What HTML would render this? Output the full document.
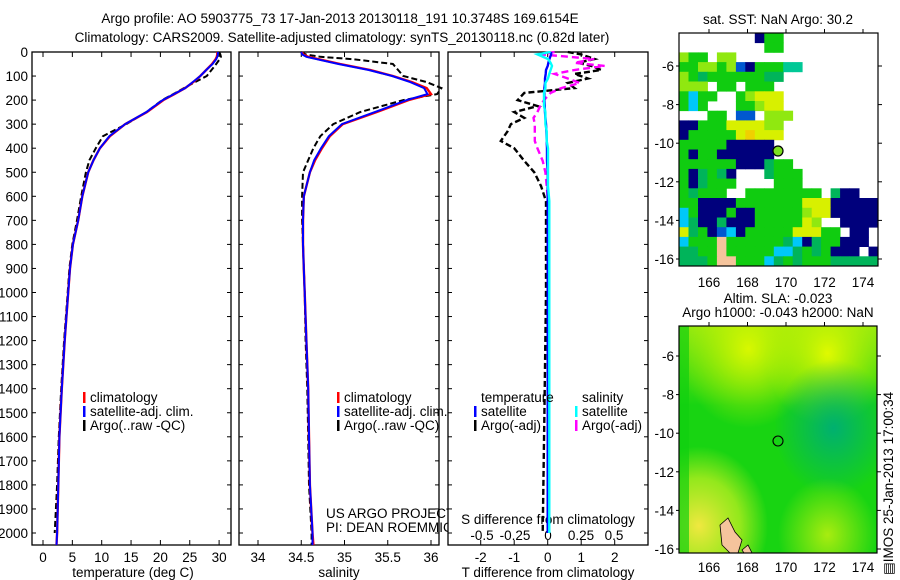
<!DOCTYPE html>
<html><head><meta charset="utf-8">
<style>
body{margin:0;background:#fff;}
svg{display:block;font-family:"Liberation Sans",sans-serif;}
text{font-size:13.5px;fill:#000;}
</style></head>
<body>
<svg id="fig" width="900" height="580" viewBox="0 0 900 580" xmlns="http://www.w3.org/2000/svg">
<defs>
<radialGradient id="g1" cx="0.1" cy="0.88" r="0.35"><stop offset="0" stop-color="#f0e840"/><stop offset="0.6" stop-color="#c8f020" stop-opacity="0.7"/><stop offset="1" stop-color="#c8f020" stop-opacity="0"/></radialGradient>
<radialGradient id="g2" cx="0.78" cy="0.45" r="0.3"><stop offset="0" stop-color="#00b070"/><stop offset="1" stop-color="#00b070" stop-opacity="0"/></radialGradient>
<radialGradient id="g3" cx="0.35" cy="0.1" r="0.35"><stop offset="0" stop-color="#d8f800"/><stop offset="1" stop-color="#c0f000" stop-opacity="0"/></radialGradient>
<radialGradient id="g4" cx="0.75" cy="0.12" r="0.32"><stop offset="0" stop-color="#e0fa00"/><stop offset="1" stop-color="#c0f000" stop-opacity="0"/></radialGradient>
<radialGradient id="g5" cx="0.75" cy="0.92" r="0.25"><stop offset="0" stop-color="#a8ec10"/><stop offset="1" stop-color="#a8ec10" stop-opacity="0"/></radialGradient>
<linearGradient id="gtop" x1="0" y1="0" x2="0" y2="1"><stop offset="0" stop-color="#b0ee10" stop-opacity="0.8"/><stop offset="0.35" stop-color="#b0ee10" stop-opacity="0"/></linearGradient>
</defs>
<text x="340" y="23" text-anchor="middle" font-size="14.5">Argo profile: AO 5903775_73 17-Jan-2013 20130118_191 10.3748S 169.6154E</text>
<text x="342" y="42" text-anchor="middle" font-size="14.5">Climatology: CARS2009. Satellite-adjusted climatology: synTS_20130118.nc (0.82d later)</text>
<g id="p1"></g>
<g id="p2"></g>
<g id="p3"></g>
<g id="m1"></g>
<g id="m2"></g>
<text transform="translate(893,575) rotate(-90)" font-size="13">▤IMOS 25-Jan-2013 17:00:34</text>
</svg>
<script>
// ---- data ----
const depth = [0,10,20,30,50,75,100,125,150,175,200,250,300,350,400,450,500,600,700,800,900,1000,1200,1400,1600,1800,2000,2050];
const tempClim = [29.7,29.7,29.6,29.4,28.8,27.8,26.8,25.6,24.2,22.4,20.5,17.7,14.0,11.4,9.7,8.6,7.7,6.7,6.0,5.1,4.6,4.3,3.7,3.2,2.8,2.6,2.4,2.3];
const tempSat  = [29.8,29.8,29.7,29.5,28.9,27.8,26.8,25.5,24.2,22.3,20.4,17.6,14.0,11.3,9.7,8.6,7.7,6.7,6.0,5.1,4.6,4.3,3.7,3.2,2.8,2.6,2.4,2.3];
const tempArgo = [30.0,30.2,30.3,30.1,29.5,28.7,27.9,25.9,24.0,22.2,20.3,17.6,14.2,10.2,9.0,7.9,7.3,6.5,5.8,5.0,4.5,4.2,3.6,3.1,2.7,2.4,2.0,2.0];
const salClim  = [34.51,34.52,34.58,34.70,34.95,35.30,35.56,35.78,35.95,36.00,35.74,35.37,34.98,34.83,34.74,34.66,34.60,34.53,34.52,34.52,34.53,34.54,34.56,34.58,34.59,34.60,34.63,34.64];
const salSat   = [34.50,34.51,34.56,34.68,34.93,35.28,35.55,35.76,35.92,35.96,35.72,35.35,34.97,34.82,34.73,34.65,34.60,34.53,34.52,34.52,34.53,34.54,34.56,34.58,34.59,34.60,34.63,34.63];
const salArgo  = [34.50,34.55,34.72,35.10,35.56,35.62,35.68,35.95,36.12,36.07,35.68,35.18,34.87,34.72,34.64,34.58,34.52,34.51,34.51,34.52,34.53,34.54,34.55,34.57,34.58,34.59,34.62,34.62];
const depthD   = [0,10,29,45,58,75,91,110,129,150,170,200,225,250,274,300,330,370,400,453,500,557,620,700,1000,1500,2000];
const tArgoDiff= [0.6,1.0,1.4,0.9,1.3,1.6,0.8,1.2,0.6,0.8,-0.7,-0.9,-0.3,-1.0,-0.7,-1.1,-1.2,-1.4,-1.0,-0.7,-0.4,-0.2,-0.05,-0.05,-0.05,-0.1,-0.15];
const tSatDiff = [0.1,0.1,0.05,0.02,0,-0.05,-0.06,-0.08,-0.08,-0.1,-0.1,-0.1,-0.09,-0.08,-0.07,-0.05,-0.04,-0.03,-0.02,-0.02,0,0,0,0,0,0,0];
const sArgoDiff= [0.05,-0.05,0.35,0.2,0.43,0.2,0.05,0.15,0.24,0.1,0.02,-0.03,-0.06,-0.08,-0.11,-0.1,-0.1,-0.1,-0.08,-0.04,-0.02,-0.01,0,0,0,0,0];
const sSatDiff = [0.02,-0.08,0.0,0.02,0.03,0.02,0.01,0,-0.02,-0.02,-0.03,-0.03,-0.03,-0.02,-0.02,-0.02,-0.01,-0.01,0,0,0,0,0.01,0.01,0.01,0.01,0.01];
const depthTicks = [0,100,200,300,400,500,600,700,800,900,1000,1100,1200,1300,1400,1500,1600,1700,1800,1900,2000];
const tempTicks = [0,5,10,15,20,25,30];
const salTicks = [34,34.5,35,35.5,36];
const tdTicks = [-2,-1,0,1,2];
const sdTicks = [-0.5,-0.25,0,0.25,0.5];
const latTicks = [-6,-8,-10,-12,-14,-16];
const lonTicks = [166,168,170,172,174];
// SST grid (0.5 deg cells, top row lat -4.29)
const sstRows = [
"........ngg..........",
".........gg..........",
"lgg.ll...............",
"ggllglbngggTT........",
"lgGggggggGG..........",
"lll.gg.ggg...........",
"gcgg..glyyy..........",
"gcg...gglyy..........",
"...gg.bb.lll.........",
"nngggyyyyll..........",
"ngggggyYyyy..........",
"gggggnnnnn...........",
"gnggnnnnnn...........",
"ggggggnnnGgg.........",
"gnGgGn...Gggg........",
"gnGggg....ggg........",
"gGggg..gggggggg.Gnn..",
"ggnnnngggggggyyynnnnn",
"cgnnngnnggggglyynnnnn",
"cGnnGnnngggggyl..nnnn",
"yGgnbcngggggyyygg.nn.",
"cgggpggggggGcnGggnnn.",
"GGggpgggggccGgGgnnn.n",
"GGGgppgggcGgGgggGGGGG"];
const colorKey = {n:"#00007c",g:"#10cc10",G:"#00b45a",l:"#90e810",y:"#d8f000",Y:"#f0d000",c:"#00c8f8",b:"#0058d0",p:"#f5c49c",T:"#00c896"};

const NS="http://www.w3.org/2000/svg";
function el(parent,tag,attrs){const e=document.createElementNS(NS,tag);for(const k in attrs)e.setAttribute(k,attrs[k]);parent.appendChild(e);return e;}
function txt(parent,x,y,s,anchor,size){const t=el(parent,"text",{x:x,y:y,"text-anchor":anchor||"start"});if(size)t.setAttribute("font-size",size);t.textContent=s;return t;}

const TOP=52, BOT=545;
const yD = d => 52 + d*0.2405;

function panel(g,x0,x1,name){
  const r=el(g,"rect",{x:x0,y:TOP,width:x1-x0,height:BOT-TOP,fill:"none",stroke:"#000","stroke-width":1.3});
  
  
  depthTicks.forEach(d=>{
    el(g,"line",{x1:x0,x2:x0+4,y1:yD(d),y2:yD(d),stroke:"#000"});
    el(g,"line",{x1:x1-4,x2:x1,y1:yD(d),y2:yD(d),stroke:"#000"});
  });
}
function line(g,xs,ds,fx,color,w,dash,name){
  const pts=xs.map((v,i)=>fx(v).toFixed(1)+","+yD(ds[i]).toFixed(1)).join(" ");
  const p=el(g,"polyline",{points:pts,fill:"none",stroke:color,"stroke-width":w});
  if(dash)p.setAttribute("stroke-dasharray",dash);
  
  
}
function xticks(g,ticks,fx,ylab,fmt){
  ticks.forEach(t=>{
    el(g,"line",{x1:fx(t),x2:fx(t),y1:TOP,y2:TOP+5,stroke:"#000"});
    el(g,"line",{x1:fx(t),x2:fx(t),y1:BOT-5,y2:BOT,stroke:"#000"});
    const l=txt(g,fx(t),ylab,fmt?fmt(t):String(t),"middle");
    
    
  });
}
function legend(g,x,y,items){
  items.forEach((it,i)=>{
    el(g,"rect",{x:x,y:y+i*14-10,width:2.5,height:11,fill:it[1]});
    const t=txt(g,x+7,y+i*14,it[0]);
    
    
  });
}

// Panel 1 temperature
const p1=document.getElementById("p1");
const xT = v => 43 + v*5.87;
panel(p1,32,231,"temperature-panel");
depthTicks.forEach(d=>{const t=txt(p1,28,yD(d)+5,String(d),"end");
  
  });
xticks(p1,tempTicks,xT,562);
txt(p1,133,577,"temperature (deg C)","middle");
line(p1,tempArgo.slice(0,27),depth.slice(0,27),xT,"#000",2,"6,3","temp-argo-line");
line(p1,tempClim,depth,xT,"#f00",2.4,null,"temp-climatology-line");
line(p1,tempSat,depth,xT,"#00f",2,null,"temp-satellite-line");
legend(p1,83,402,[["climatology","#f00"],["satellite-adj. clim.","#00f"],["Argo(..raw -QC)","#000"]]);

// Panel 2 salinity
const p2=document.getElementById("p2");
const xS = v => 258 + (v-34)*86.5;
panel(p2,239,439,"salinity-panel");
xticks(p2,salTicks,xS,562);
txt(p2,339,577,"salinity","middle");
line(p2,salArgo,depth,xS,"#000",2,"6,3","sal-argo-line");
line(p2,salClim,depth,xS,"#f00",2.4,null,"sal-climatology-line");
line(p2,salSat,depth,xS,"#00f",2,null,"sal-satellite-line");
legend(p2,337,402,[["climatology","#f00"],["satellite-adj. clim.","#00f"],["Argo(..raw -QC)","#000"]]);
txt(p2,326,518,"US ARGO PROJECT");
txt(p2,326,532,"PI: DEAN ROEMMICH");

// Panel 3 differences
const p3=document.getElementById("p3");
const xTD = v => 547.7 + v*33.5;
const xSD = v => 548 + v*132;
el(p3,"rect",{x:448,y:TOP,width:200,height:BOT-TOP,fill:"#fff"});
panel(p3,448,648,"difference-panel");
xticks(p3,tdTicks,xTD,562);
sdTicks.forEach(t=>{const l=txt(p3,xSD(t),540,String(t),"middle");
  
  });
txt(p3,548,524,"S difference from climatology","middle");
txt(p3,548,577,"T difference from climatology","middle");
line(p3,tArgoDiff,depthD,xTD,"#000",2.4,"6,3","t-argo-diff-line");
line(p3,sArgoDiff,depthD,xSD,"#f0f",2.4,"7,4","s-argo-diff-line");
line(p3,tSatDiff,depthD,xTD,"#00f",2.4,null,"t-satellite-diff-line");
line(p3,sSatDiff,depthD,xSD,"#0ff",2.4,null,"s-satellite-diff-line");
txt(p3,481,402,"temperature");
txt(p3,582,402,"salinity");
legend(p3,474,416,[["satellite","#00f"],["Argo(-adj)","#000"]]);
legend(p3,575,416,[["satellite","#0ff"],["Argo(-adj)","#f0f"]]);

// Maps
function mapAxes(g,x0,y0,x1,y1,lat0py,pxPerLat,lonY){
  const xL = lon => 709 + (lon-166)*19.25;
  lonTicks.forEach(l=>{
    el(g,"line",{x1:xL(l),x2:xL(l),y1:y0-4,y2:y0,stroke:"#000"});
    const t=txt(g,xL(l),lonY,String(l),"middle");
    
    
  });
  latTicks.forEach(l=>{
    const y = lat0py + (-6-l)*pxPerLat;
    el(g,"line",{x1:x1,x2:x1+4,y1:y,y2:y,stroke:"#000"});
    el(g,"line",{x1:x0-3,x2:x0,y1:y,y2:y,stroke:"#000"});
    const t=txt(g,x0-5,y+5,String(l),"end");
    
    
  });
  const r=el(g,"rect",{x:x0,y:y0,width:x1-x0,height:y1-y0,fill:"none",stroke:"#000","stroke-width":1.2});
  
  
}
const m1=document.getElementById("m1");
txt(m1,778,24,"sat. SST: NaN Argo: 30.2","middle");
const cw=199/21, ch=233/24;
sstRows.forEach((row,ri)=>{
  for(let ci=0;ci<row.length;ci++){
    const c=row[ci]; if(c==="."||!colorKey[c]) continue;
    const r=el(m1,"rect",{x:(679+ci*cw).toFixed(1),y:(33+ri*ch).toFixed(1),width:(cw+0.4).toFixed(1),height:(ch+0.4).toFixed(1),fill:colorKey[c]});
    
    
  }
});
const pt1=el(m1,"circle",{cx:778,cy:151,r:5,fill:"#7ce020",stroke:"#000","stroke-width":1.2});


mapAxes(m1,679,33,878,266,66,19.3,287);

const m2=document.getElementById("m2");
txt(m2,778,303,"Altim. SLA: -0.023","middle");
txt(m2,778,317,"Argo h1000: -0.043 h2000: NaN","middle");
el(m2,"rect",{x:679,y:326,width:198,height:227,fill:"#18d412"});
el(m2,"rect",{x:679,y:326,width:198,height:227,fill:"url(#gtop)"});
el(m2,"rect",{x:679,y:326,width:198,height:227,fill:"url(#g3)"});
el(m2,"rect",{x:679,y:326,width:198,height:227,fill:"url(#g4)"});
el(m2,"rect",{x:679,y:326,width:198,height:227,fill:"url(#g2)"});
el(m2,"rect",{x:679,y:326,width:198,height:227,fill:"url(#g1)"});
el(m2,"rect",{x:679,y:326,width:198,height:227,fill:"url(#g5)"});
el(m2,"rect",{x:679,y:326,width:10,height:227,fill:"#10d010",opacity:0.7});
el(m2,"polygon",{points:"720,525 728,518 735,532 742,540 738,553 730,553 722,545",fill:"#f5c49c",stroke:"#000","stroke-width":0.8});
el(m2,"polygon",{points:"742,550 748,545 752,553 744,553",fill:"#f5c49c",stroke:"#000","stroke-width":0.8});
const pt2=el(m2,"circle",{cx:778,cy:441,r:5,fill:"none",stroke:"#000","stroke-width":1.1});


mapAxes(m2,679,326,877,553,356,19.3,572);
</script>
</body></html>
